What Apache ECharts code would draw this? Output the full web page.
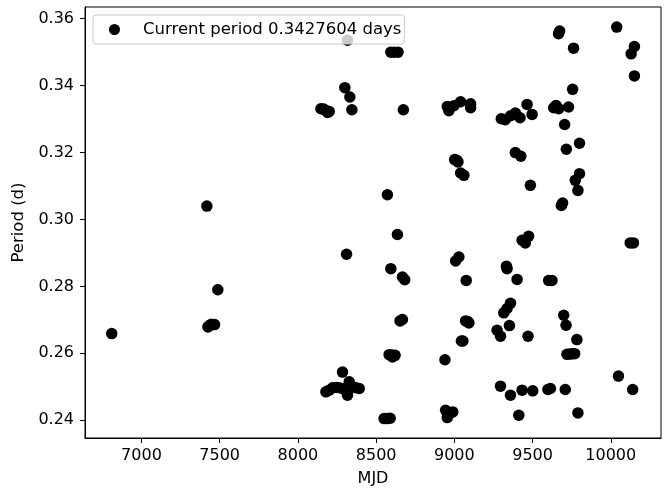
<!DOCTYPE html>
<html>
<head>
<meta charset="utf-8">
<script src="https://cdn.jsdelivr.net/npm/echarts@6/dist/echarts.min.js"></script>
<style>html,body{margin:0;padding:0;background:#fff}#c{width:668px;height:490px}</style>
</head>
<body>
<div id="c"></div>
<script>
const seriesName = 'Current period 0.3427604 days';
const xTicks = [7000, 7500, 8000, 8500, 9000, 9500, 10000];
const yTicks = [0.24, 0.26, 0.28, 0.30, 0.32, 0.34, 0.36];
const mjd = [
  6810, 7418, 7488, 7425, 7446, 7467, 7435,
  8147, 8165, 8179, 8200, 8190, 8300, 8332, 8345, 8317, 8311,
  8285, 8179, 8200, 8222, 8245, 8264, 8290, 8328, 8328, 8350, 8371, 8392, 8317,
  8572, 8594, 8615, 8640, 8674, 8636, 8594, 8668, 8683, 8653, 8668,
  8583, 8604, 8621, 8600, 8551, 8572, 8590,
  8940, 8944, 8976, 8955, 8990, 9008, 9029, 9076, 9072, 9093, 9085, 9055, 9045,
  9002, 9023, 9015, 9040, 9061, 8955, 8965, 8997, 9040, 9104, 9104,
  9300, 9325, 9360, 9390, 9420, 9465, 9497, 9390, 9425, 9486, 9433, 9475, 9454,
  9333, 9337, 9401, 9359, 9337, 9316, 9352, 9273, 9295, 9471, 9295, 9359, 9433, 9501, 9412,
  9598, 9614, 9603, 9624, 9709, 9699, 9714, 9783, 9720, 9752, 9769, 9740, 9790,
  9684, 9692, 9800, 9773, 9790, 9716, 9800, 9705, 9756, 9635, 9650, 9667, 9730,
  9673, 9666, 9762,
  10038, 10151, 10130, 10151, 10124, 10145, 10049, 10140
];
const period = [
  0.2659, 0.3040, 0.2790, 0.2679, 0.2687, 0.2686, 0.2683,
  0.3331, 0.3330, 0.3326, 0.3323, 0.3320, 0.3394, 0.3366, 0.3328, 0.3536, 0.2896,
  0.2544, 0.2485, 0.2490, 0.2497, 0.2498, 0.2497, 0.2494, 0.2515, 0.2495, 0.2500, 0.2497, 0.2495, 0.2475,
  0.3074, 0.3500, 0.3500, 0.3500, 0.3328, 0.2955, 0.2853, 0.2828, 0.2820, 0.2697, 0.2701,
  0.2596, 0.2589, 0.2594, 0.2595, 0.2405, 0.2405, 0.2406,
  0.2581, 0.2430, 0.2422, 0.2408, 0.2425, 0.2876, 0.2888, 0.2818, 0.2697, 0.2691, 0.2695, 0.2637, 0.2637,
  0.3179, 0.3172, 0.3177, 0.3139, 0.3132, 0.3338, 0.3325, 0.3340, 0.3352, 0.3346, 0.3334,
  0.3301, 0.3298, 0.3310, 0.3318, 0.3304, 0.3344, 0.3314, 0.3200, 0.3189, 0.3102, 0.2938, 0.2950, 0.2930,
  0.2860, 0.2853, 0.2821, 0.2750, 0.2734, 0.2721, 0.2683, 0.2669, 0.2651, 0.2651, 0.2502, 0.2475, 0.2490, 0.2488, 0.2415,
  0.2492, 0.2495, 0.2818, 0.2818, 0.2492, 0.2714, 0.2684, 0.2641, 0.2597, 0.2599, 0.2599, 0.2598, 0.2422,
  0.3042, 0.3049, 0.3137, 0.3117, 0.3087, 0.3210, 0.3228, 0.3284, 0.3389, 0.3334, 0.3341, 0.3331, 0.3336,
  0.3563, 0.3555, 0.3512,
  0.3575, 0.3517, 0.3495, 0.3429, 0.2930, 0.2930, 0.2532, 0.2492
];
const points = mjd.map((x, i) => [x, period[i]]);
const font = 'DejaVu Sans';
const chart = echarts.init(document.getElementById('c'), null, {renderer: 'canvas'});
chart.setOption({
  animation: false,
  backgroundColor: '#fff',
  grid: {left: 85, right: 7, top: 7, bottom: 52, show: true, borderColor: '#000', borderWidth: 1,
         backgroundColor: 'transparent', outerBoundsMode: 'none', containLabel: false},
  legend: {
    z: 10,
    left: 93, top: 15,
    data: [{name: seriesName, icon: 'circle'}],
    itemWidth: 11, itemHeight: 11,
    padding: [6, 3, 6, 16],
    backgroundColor: 'rgba(255,255,255,0.8)',
    borderColor: '#cccccc', borderWidth: 1, borderRadius: 3,
    textStyle: {fontFamily: font, fontSize: 16.5, color: '#000', lineHeight: 16, padding: [0, 0, 0, 18]}
  },
  xAxis: {
    type: 'value', min: 6639, max: 10321,
    name: 'MJD', nameLocation: 'middle', nameGap: 33,
    nameTextStyle: {fontFamily: font, fontSize: 16, color: '#000'},
    axisLine: {show: true, onZero: false, lineStyle: {color: '#000', width: 1}},
    axisTick: {show: true, length: 5, lineStyle: {color: '#000'}, customValues: xTicks},
    axisLabel: {fontFamily: font, fontSize: 16, color: '#000', margin: 10, customValues: xTicks, formatter: v => String(v)},
    splitLine: {show: false}
  },
  yAxis: {
    type: 'value', min: 0.2347, max: 0.3635,
    name: 'Period (d)', nameLocation: 'middle', nameGap: 50,
    nameTextStyle: {fontFamily: font, fontSize: 16.5, color: '#000'},
    axisLine: {show: true, onZero: false, lineStyle: {color: '#000', width: 1}},
    axisTick: {show: true, length: 5, lineStyle: {color: '#000'}, customValues: yTicks},
    axisLabel: {fontFamily: font, fontSize: 16, color: '#000', margin: 11, customValues: yTicks, formatter: v => v.toFixed(2)},
    splitLine: {show: false}
  },
  series: [{
    name: seriesName, type: 'scatter', data: points, z: 2,
    symbol: 'circle', symbolSize: 11.5,
    itemStyle: {color: '#000', opacity: 1},
    emphasis: {disabled: true}
  }]
});
</script>
</body>
</html>
